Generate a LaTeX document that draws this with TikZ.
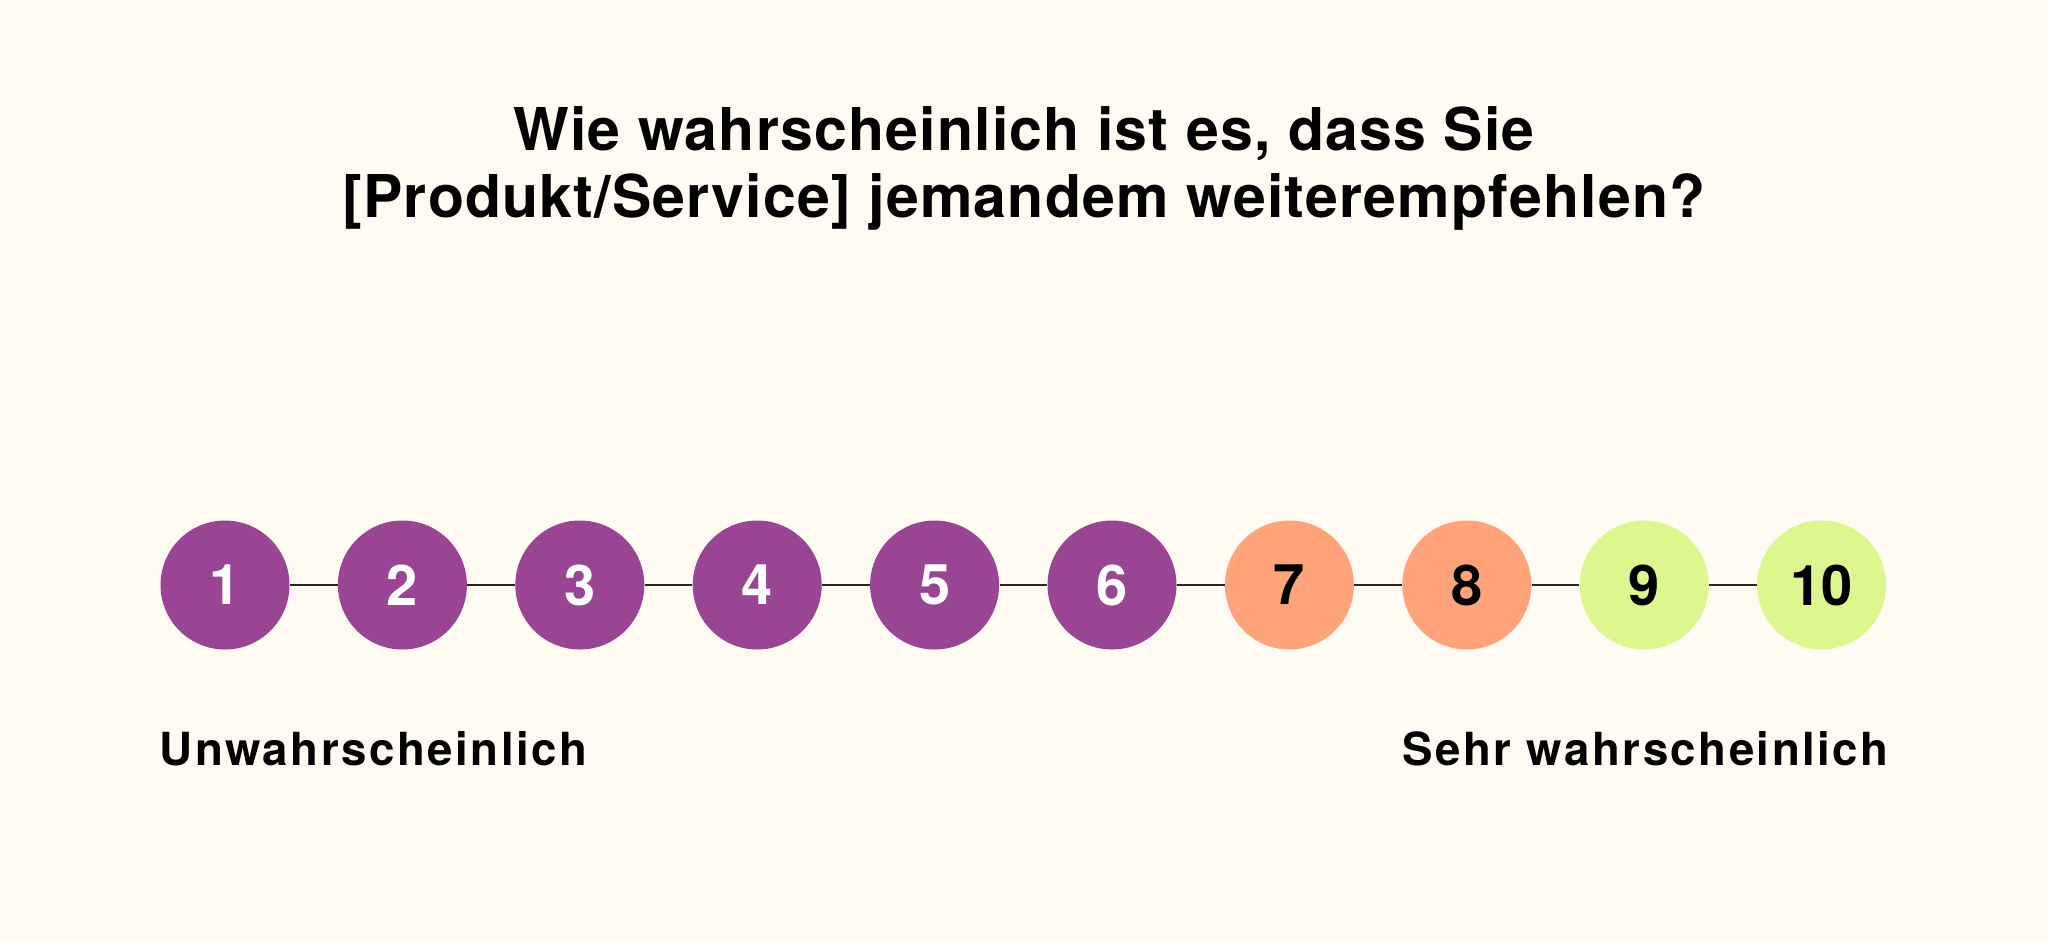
\documentclass[tikz,border=0pt]{standalone}
\usepackage{fontspec}
\setmainfont{TeX Gyre Heros}
\newfontfamily\titlefont[LetterSpace=2]{TeX Gyre Heros}
\newfontfamily\scalefont[LetterSpace=5.5]{TeX Gyre Heros}
\definecolor{bgcream}{HTML}{FFFBF3}
\definecolor{detractor}{HTML}{994594}
\definecolor{passive}{HTML}{FFA47A}
\definecolor{promoter}{HTML}{DDF78F}
\begin{document}
\begin{tikzpicture}[x=0.5pt, y=-0.5pt,
    bubble/.style={circle, minimum size=64.5pt, inner sep=0pt, font=\fontsize{28}{30}\selectfont\bfseries},
    question/.style={anchor=base, inner sep=0pt, font=\fontsize{29.5}{33}\selectfont\titlefont\bfseries},
    scalelabel/.style={inner sep=0pt, font=\fontsize{22.8}{26}\selectfont\scalefont\bfseries}]
    % Background
    \fill[bgcream] (0,0) rectangle (2048,942);
    \useasboundingbox (0,0) rectangle (2048,942);

    % Question (2 lines)
    \node[question] (Q1) at (1024,150) {Wie wahrscheinlich ist es, dass Sie};
    \node[question] (Q2) at (1024,217) {[Produkt/Service] jemandem weiterempfehlen?};

    % Scale (10 bubbles)
    \foreach \i/\c/\t in {1/detractor/white, 2/detractor/white, 3/detractor/white,
                          4/detractor/white, 5/detractor/white, 6/detractor/white,
                          7/passive/black, 8/passive/black, 9/promoter/black, 10/promoter/black} {
        \node[bubble, fill=\c, text=\t] (S\i) at ({225+177.4*(\i-1)},585) {\i};
    }

    % Connect neighbouring bubbles
    \foreach \i [evaluate=\i as \j using int(\i+1)] in {1,...,9} {
        \draw[line width=1.3pt, black!85] (S\i) -- (S\j);
    }

    % End labels
    \node[scalelabel, anchor=base west] (low) at (159,765) {Unwahrscheinlich};
    \node[scalelabel, anchor=base east] (high) at (1889,765) {Sehr wahrscheinlich};
\end{tikzpicture}
\end{document}
